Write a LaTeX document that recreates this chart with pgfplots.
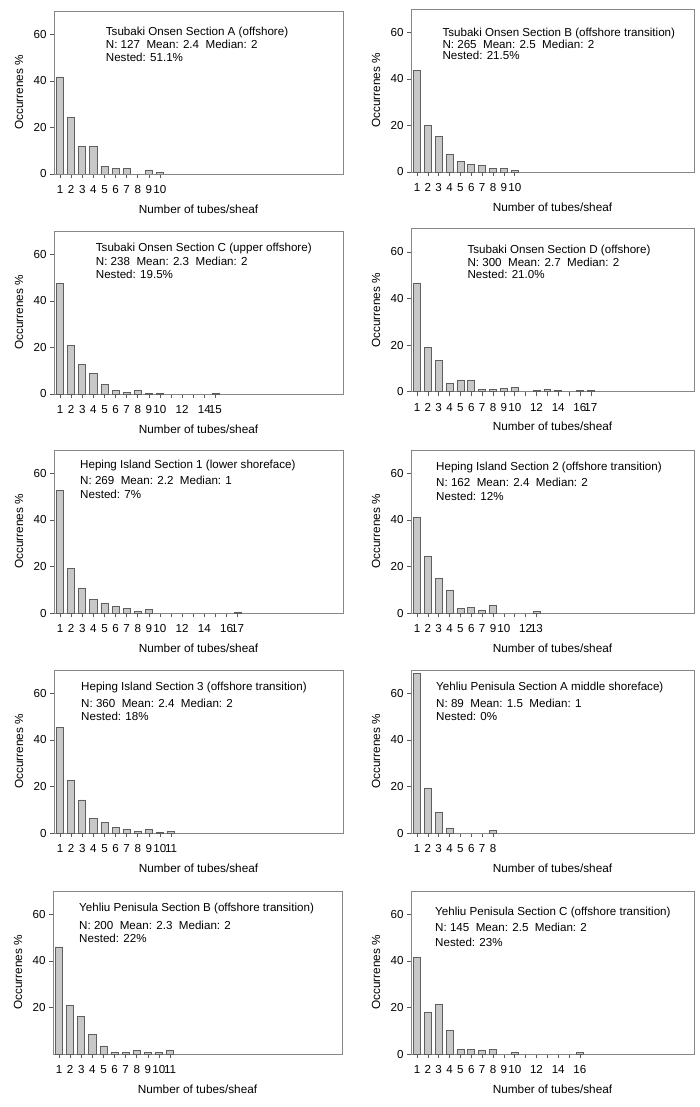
\documentclass[border=0pt]{standalone}
\usepackage{fontspec}
\setmainfont{Liberation Sans}
\usepackage{pgfplots}
\pgfplotsset{compat=1.18}
\definecolor{barfill}{RGB}{200,200,200}
\definecolor{bardraw}{RGB}{95,95,95}
\definecolor{framec}{RGB}{135,135,135}
\newcommand{\tfont}{\fontsize{11.6}{13}\selectfont}
\newcommand{\lfont}{\fontsize{11.8}{13}\selectfont}
\newcommand{\kfont}{\fontsize{11.6}{13}\selectfont}
\pgfplotsset{
  panel/.style={
    scale only axis, height=163pt, ymin=0, ymax=70, xmin=0.45, xmax=26.5,
    ytick={0,20,40,60}, anchor=south west,
    axis line style={draw=framec, line width=0.8pt},
    tick align=outside, xtick pos=bottom, ytick pos=left,
    major tick length=4pt,
    tick style={draw=black!65, line width=0.6pt},
    /pgf/number format/assume math mode=true,
    ticklabel style={font=\kfont},
    xticklabel style={yshift=-4pt},
    xlabel={Number of tubes/sheaf},
    ylabel={Occurrenes \%},
    label style={font=\lfont},
    xlabel style={at={([yshift=-35pt]rel axis cs:0.5,0)}, anchor=center},
    ylabel style={at={([xshift=-35pt]rel axis cs:0,0.5)}, anchor=center},
    ybar, bar width=0.64,
  },
  bars/.style={fill=barfill, draw=bardraw, line width=0.7pt},
}
\newcommand{\ptitle}[7]{%
  \node[anchor=base west,font=\tfont,inner sep=0pt] at ([xshift=#1pt,yshift=-#2pt]rel axis cs:0,1) {#5};
  \node[anchor=base west,font=\tfont,inner sep=0pt] at ([xshift=#1pt,yshift=-#3pt]rel axis cs:0,1) {#6};
  \node[anchor=base west,font=\tfont,inner sep=0pt] at ([xshift=#1pt,yshift=-#4pt]rel axis cs:0,1) {#7};
}
\begin{document}
\begin{tikzpicture}
\useasboundingbox (0,0) rectangle (700pt,-1107pt);
% Panel 1
\begin{axis}[panel, at={(54pt,-174pt)}, width=289pt, xtick={1,...,10}]
\addplot[bars] coordinates {(1,41.7)(2,24.4)(3,11.8)(4,11.8)(5,3.1)(6,2.4)(7,2.4)(9,1.6)(10,0.8)};
\ptitle{51.7}{24.7}{37.3}{50.3}{Tsubaki Onsen Section A (offshore)}{N: 127\ \ Mean: 2.4\ \ Median: 2}{Nested: 51.1\%}
\end{axis}
% Panel 2
\begin{axis}[panel, at={(411pt,-172pt)}, width=283pt, xtick={1,...,10}]
\addplot[bars] coordinates {(1,43.8)(2,20.0)(3,15.1)(4,7.5)(5,4.5)(6,3.4)(7,2.8)(8,1.4)(9,1.4)(10,0.5)};
\ptitle{31.3}{27}{39.5}{50.5}{Tsubaki Onsen Section B (offshore transition)}{N: 265\ \ Mean: 2.5\ \ Median: 2}{Nested: 21.5\%}
\end{axis}
% Panel 3
\begin{axis}[panel, at={(54pt,-394pt)}, width=289pt, xtick={1,...,15},
  xticklabels={1,2,3,4,5,6,7,8,9,10,,12,,14,15}]
\addplot[bars] coordinates {(1,47.5)(2,21.0)(3,12.6)(4,9.0)(5,4.2)(6,1.7)(7,0.8)(8,1.7)(9,0.4)(10,0.4)(15,0.4)};
\ptitle{41.7}{20.6}{34}{47.3}{Tsubaki Onsen Section C (upper offshore)}{N: 238\ \ Mean: 2.3\ \ Median: 2}{Nested: 19.5\%}
\end{axis}
% Panel 4
\begin{axis}[panel, at={(411pt,-391.7pt)}, width=283pt, xtick={1,...,17},
  xticklabels={1,2,3,4,5,6,7,8,9,10,,12,,14,,16,17}]
\addplot[bars] coordinates {(1,46.7)(2,19.0)(3,13.3)(4,3.7)(5,4.7)(6,5.0)(7,1.0)(8,1.0)(9,1.3)(10,1.7)(12,0.5)(13,1.0)(14,0.5)(16,0.4)(17,0.4)};
\ptitle{56.3}{24.3}{37.7}{50}{Tsubaki Onsen Section D (offshore)}{N: 300\ \ Mean: 2.7\ \ Median: 2}{Nested: 21.0\%}
\end{axis}
% Panel 5
\begin{axis}[panel, at={(54pt,-613pt)}, width=289pt, xtick={1,...,17},
  xticklabels={1,2,3,4,5,6,7,8,9,10,,12,,14,,16,17}]
\addplot[bars] coordinates {(1,52.8)(2,19.0)(3,10.8)(4,5.9)(5,4.1)(6,3.0)(7,1.9)(8,0.8)(9,1.5)(17,0.4)};
\ptitle{26}{18}{34}{48}{Heping Island Section 1 (lower shoreface)}{N: 269\ \ Mean: 2.2\ \ Median: 1}{Nested: 7\%}
\end{axis}
% Panel 6
\begin{axis}[panel, at={(411pt,-613pt)}, width=283pt, xtick={1,...,12},
  xticklabels={1,2,3,4,5,6,7,9,10,,12,13}]
\addplot[bars] coordinates {(1,41.0)(2,24.2)(3,14.8)(4,9.9)(5,1.9)(6,2.5)(7,1.2)(8,3.1)(12,0.8)};
\ptitle{25}{20}{36.7}{50}{Heping Island Section 2 (offshore transition)}{N: 162\ \ Mean: 2.4\ \ Median: 2}{Nested: 12\%}
\end{axis}
% Panel 7
\begin{axis}[panel, at={(54pt,-833pt)}, width=289pt, xtick={1,...,11}]
\addplot[bars] coordinates {(1,45.3)(2,22.5)(3,14.2)(4,6.4)(5,4.7)(6,2.5)(7,1.4)(8,0.8)(9,1.4)(10,0.3)(11,0.6)};
\ptitle{27}{20.7}{37.3}{50.7}{Heping Island Section 3 (offshore transition)}{N: 360\ \ Mean: 2.4\ \ Median: 2}{Nested: 18\%}
\end{axis}
% Panel 8
\begin{axis}[panel, at={(411pt,-833pt)}, width=283pt, xtick={1,...,8}]
\addplot[bars] coordinates {(1,68.5)(2,19.1)(3,9.0)(4,2.2)(8,1.1)};
\ptitle{25}{20.7}{37.3}{50.7}{Yehliu Penisula Section A middle shoreface)}{N: 89\ \ Mean: 1.5\ \ Median: 1}{Nested: 0\%}
\end{axis}
% Panel 9
\begin{axis}[panel, at={(53pt,-1054pt)}, width=289pt, xtick={1,...,11}, ytick={20,40,60}]
\addplot[bars] coordinates {(1,46)(2,21)(3,16)(4,8.5)(5,3.5)(6,0.7)(7,0.7)(8,1.5)(9,0.7)(10,0.7)(11,1.5)};
\ptitle{26}{20.7}{38.3}{51.3}{Yehliu Penisula Section B (offshore transition)}{N: 200\ \ Mean: 2.3\ \ Median: 2}{Nested: 22\%}
\end{axis}
% Panel 10
\begin{axis}[panel, at={(411pt,-1054pt)}, width=283pt, xtick={1,...,16},
  xticklabels={1,2,3,4,5,6,7,8,9,10,,12,,14,,16}]
\addplot[bars] coordinates {(1,41.4)(2,17.9)(3,21.4)(4,10.3)(5,2.1)(6,2.1)(7,1.4)(8,2.1)(10,0.7)(16,0.7)};
\ptitle{24}{24}{40.7}{55.7}{Yehliu Penisula Section C (offshore transition)}{N: 145\ \ Mean: 2.5\ \ Median: 2}{Nested: 23\%}
\end{axis}
\end{tikzpicture}
\end{document}
